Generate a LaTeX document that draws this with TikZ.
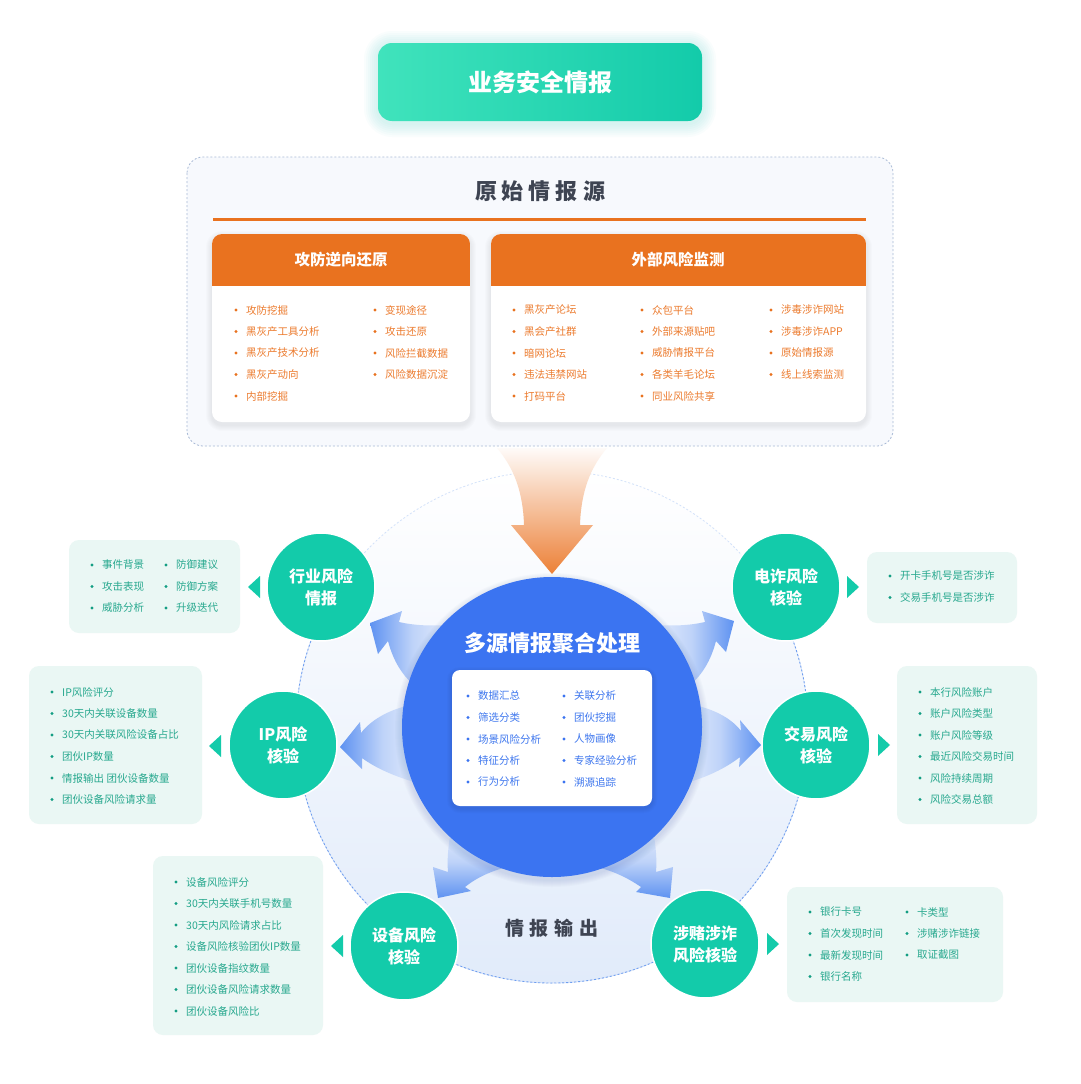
\documentclass[tikz,border=0pt]{standalone}
\usepackage{fontspec}
\setmainfont{Noto Sans CJK SC}
\definecolor{tealmain}{HTML}{13CBAA}
\definecolor{titleleft}{HTML}{40E3BC}
\definecolor{tealbox}{HTML}{EAF7F4}
\definecolor{tealtext}{HTML}{27A88E}
\definecolor{tealdot}{HTML}{139E83}
\definecolor{orangemain}{HTML}{E9721F}
\definecolor{orangetext}{HTML}{EC7B2E}
\definecolor{orangearrow}{HTML}{EC8037}
\definecolor{bluemain}{HTML}{3B74F1}
\definecolor{bluetext}{HTML}{3D76EE}
\definecolor{arrowblue}{HTML}{5E92F1}
\definecolor{arrowlight}{HTML}{E8EFFC}
\definecolor{bgblue}{HTML}{E1EBFA}
\definecolor{titlegray}{HTML}{3E4452}
\definecolor{panelfill}{HTML}{F7F9FD}
\definecolor{panelline}{HTML}{A9BAD6}
\definecolor{ringblue}{HTML}{6E9DEF}

% bullet column: name, x of dot, y of first row, colour prefix, items
\newcommand{\bulletcol}[5]{%
  \foreach \txt [count=\k] in {#5} {
    \fill[#4dot] (#2, #3+21.5*\k-21.5) circle (1.7);
    \node[#4item] (#1\k) at (#2+10, #3+21.5*\k-21.5) {\txt};
  }}
% soft shadow under a box: x1, y1, x2, y2
\newcommand{\softshadow}[4]{%
  \foreach \s in {1,...,6} {
    \fill[black, opacity=0.012, rounded corners=10pt+\s pt] (#1-\s, #2-\s+3) rectangle (#3+\s, #4+\s+3);
  }}

\begin{document}
\begin{tikzpicture}[x=1pt, y=-1pt,
    item/.style={anchor=west, inner sep=0pt, font=\fontsize{10.5}{12}\selectfont},
    oitem/.style={item, text=orangetext},
    odot/.style={fill=orangemain},
    bitem/.style={item, text=bluetext},
    bdot/.style={fill=bluemain},
    titem/.style={item, text=tealtext},
    tdot/.style={fill=tealdot},
    tealc/.style={circle, fill=tealmain, draw=white, line width=1.5pt, minimum size=108pt,
      inner sep=0pt, align=center, text=white, font=\bfseries\fontsize{16}{22}\selectfont},
    infobox/.style={fill=tealbox, rounded corners=10pt},
    card/.style={fill=white, rounded corners=10pt},
    header/.style={text=white, font=\bfseries\fontsize{15.5}{18}\selectfont},
    pointer/.style={fill=tealmain},
    toleft/.style={left color=arrowblue, right color=arrowlight, middle color=arrowblue!30!arrowlight},
    toright/.style={left color=arrowlight, right color=arrowblue, middle color=arrowblue!30!arrowlight},
    todown/.style={top color=arrowlight, bottom color=arrowblue, middle color=arrowblue!30!arrowlight},
    bigtitle/.style={text=titlegray, font=\bfseries\fontsize{22}{26}\selectfont}
  ]
  \useasboundingbox[fill=white] (0,0) rectangle (1080,1084);

  % output ring
  \shade[top color=white, bottom color=bgblue] (552,727) circle (256);
  \draw[ringblue!30, dash pattern=on 2pt off 2pt, line width=0.8pt] (552,727) circle (256);
  \draw[ringblue, dash pattern=on 2pt off 2pt, line width=0.9pt] (552,727) ++(-30:256) arc (-30:210:256);

  % blue arrows out of the core
  \shade[toleft] (455,624) .. controls (432,627) and (412,625) .. (399,622) -- (402,611) -- (370,623)
    -- (378,654) -- (388,641) .. controls (393,660) and (402,677) .. (420,690) -- cycle;
  \shade[toleft] (425,703) .. controls (398,705) and (373,717) .. (361,733) -- (360,722) -- (340,747)
    -- (362,769) -- (362,758) .. controls (377,769) and (398,778) .. (425,785) -- cycle;
  \shade[toright] (649,624) .. controls (672,627) and (692,625) .. (705,622) -- (702,611) -- (734,621)
    -- (726,652) -- (716,641) .. controls (711,660) and (702,677) .. (684,690) -- cycle;
  \shade[toright] (679,703) .. controls (706,705) and (730,716) .. (741,731) -- (740,720) -- (761,745)
    -- (739,767) -- (740,757) .. controls (726,768) and (706,778) .. (679,785) -- cycle;
  \shade[todown] (452,825) .. controls (448,845) and (447,860) .. (448,872) -- (433,867) -- (438,898)
    -- (471,891) -- (465,887) .. controls (476,878) and (492,870) .. (512,866) -- cycle;
  \shade[todown] (652,825) .. controls (656,845) and (657,860) .. (656,872) -- (673,867) -- (670,898)
    -- (636,892) -- (641,887) .. controls (628,878) and (612,870) .. (592,866) -- cycle;

  % core
  \foreach \s in {1,...,7} {
    \fill[bluemain!60!black, opacity=0.018] (552,730) circle (150+\s);
  }
  \node[circle, fill=bluemain, minimum size=300pt, inner sep=0pt] (core) at (552,727) {};
  \node[text=white, font=\bfseries\fontsize{22}{26}\selectfont] (coretitle) at (552,643) {多源情报聚合处理};
  \foreach \s in {1,...,5} {
    \fill[bluemain!50!black, opacity=0.03, rounded corners=8pt+\s pt] (452-\s,672-\s) rectangle (652+\s,808+\s);
  }
  \node[fill=white, rounded corners=8pt, minimum width=200pt, minimum height=136pt, inner sep=0pt] (corebox) at (552,738) {};
  \bulletcol{cl}{468}{696}{b}{数据汇总,筛选分类,场景风险分析,特征分析,行为分析}
  \bulletcol{cr}{564}{696}{b}{关联分析,团伙挖掘,人物画像,专家经验分析,溯源追踪}

  % orange arrow into the core
  \shade[top color=orangearrow!3, bottom color=orangearrow] (497,448) .. controls (514,468) and (523,492) .. (524,525)
    -- (511,525) -- (552,574) -- (593,525) -- (580,525) .. controls (581,492) and (590,468) .. (607,448) -- cycle;

  % source panel
  \draw[panelline, fill=panelfill, dash pattern=on 2pt off 2pt, line width=0.8pt, rounded corners=16pt] (187,157) rectangle (893,446);
  \node[bigtitle] (srctitle) at (540,191) {原\hspace{5pt}始\hspace{5pt}情\hspace{5pt}报\hspace{5pt}源};
  \draw[orangemain, line width=3pt] (213,219) -- (866,219);

  \softshadow{212}{234}{470}{422}
  \fill[card] (212,234) rectangle (470,422);
  \begin{scope}
    \clip[rounded corners=10pt] (212,234) rectangle (470,422);
    \fill[orangemain] (212,234) rectangle (470,286);
  \end{scope}
  \node[header] (atk) at (341,260) {攻防逆向还原};
  \bulletcol{al}{236}{310}{o}{攻防挖掘,黑灰产工具分析,黑灰产技术分析,黑灰产动向,内部挖掘}
  \bulletcol{ar}{375}{310}{o}{变现途径,攻击还原,风险拦截数据,风险数据沉淀}

  \softshadow{491}{234}{866}{422}
  \fill[card] (491,234) rectangle (866,422);
  \begin{scope}
    \clip[rounded corners=10pt] (491,234) rectangle (866,422);
    \fill[orangemain] (491,234) rectangle (866,286);
  \end{scope}
  \node[header] (ext) at (678,260) {外部风险监测};
  \bulletcol{ea}{514}{310}{o}{黑灰产论坛,黑会产社群,暗网论坛,违法违禁网站,打码平台}
  \bulletcol{eb}{642}{310}{o}{众包平台,外部来源贴吧,威胁情报平台,各类羊毛论坛,同业风险共享}
  \bulletcol{ec}{771}{310}{o}{涉毒涉诈网站,涉毒涉诈APP,原始情报源,线上线索监测}

  % top title
  \foreach \s in {2,4,...,14} {
    \fill[tealmain, opacity=0.025, rounded corners=14pt+\s pt] (378-\s,43-\s+2) rectangle (702+\s,121+\s+2);
  }
  \node[rounded corners=14pt, minimum width=324pt, minimum height=78pt, inner sep=0pt,
    left color=titleleft, right color=tealmain, text=white,
    font=\bfseries\fontsize{24}{28}\selectfont] (top) at (540,82) {业务安全情报};

  % result circles
  \node[tealc] (hy) at (321,587) {行业风险\\情报};
  \node[tealc] (ip) at (283,745) {IP风险\\核验};
  \node[tealc] (sb) at (404,946) {设备风险\\核验};
  \node[tealc] (dz) at (786,587) {电诈风险\\核验};
  \node[tealc] (jy) at (816,745) {交易风险\\核验};
  \node[tealc] (sd) at (705,944) {涉赌涉诈\\风险核验};

  \fill[pointer] (248,587) -- (260,576) -- (260,598) -- cycle;
  \fill[pointer] (209,746) -- (221,735) -- (221,757) -- cycle;
  \fill[pointer] (331,946) -- (343,935) -- (343,957) -- cycle;
  \fill[pointer] (859,587) -- (847,576) -- (847,598) -- cycle;
  \fill[pointer] (890,745) -- (878,734) -- (878,756) -- cycle;
  \fill[pointer] (779,944) -- (767,933) -- (767,955) -- cycle;

  % detail boxes
  \fill[infobox] (69,540) rectangle (240,633);
  \bulletcol{hyl}{92}{565}{t}{事件背景,攻击表现,威胁分析}
  \bulletcol{hyr}{166}{565}{t}{防御建议,防御方案,升级迭代}

  \fill[infobox] (29,666) rectangle (202,824);
  \bulletcol{ipl}{52}{692}{t}{IP风险评分,30天内关联设备数量,30天内关联风险设备占比,团伙IP数量,情报输出 团伙设备数量,团伙设备风险请求量}

  \fill[infobox] (153,856) rectangle (323,1035);
  \bulletcol{sbl}{176}{882}{t}{设备风险评分,30天内关联手机号数量,30天内风险请求占比,设备风险核验团伙IP数量,团伙设备指纹数量,团伙设备风险请求数量,团伙设备风险比}

  \fill[infobox] (867,552) rectangle (1017,623);
  \bulletcol{dzl}{890}{576}{t}{开卡手机号是否涉诈,交易手机号是否涉诈}

  \fill[infobox] (897,666) rectangle (1037,824);
  \bulletcol{jyl}{920}{692}{t}{本行风险账户,账户风险类型,账户风险等级,最近风险交易时间,风险持续周期,风险交易总额}

  \fill[infobox] (787,887) rectangle (1003,1002);
  \bulletcol{sdl}{810}{912}{t}{银行卡号,首次发现时间,最新发现时间,银行名称}
  \bulletcol{sdr}{907}{912}{t}{卡类型,涉赌涉诈链接,取证截图}

  \node[text=titlegray, font=\bfseries\fontsize{19}{22}\selectfont] (out) at (552,928) {情\hspace{6pt}报\hspace{6pt}输\hspace{6pt}出};
\end{tikzpicture}
\end{document}
